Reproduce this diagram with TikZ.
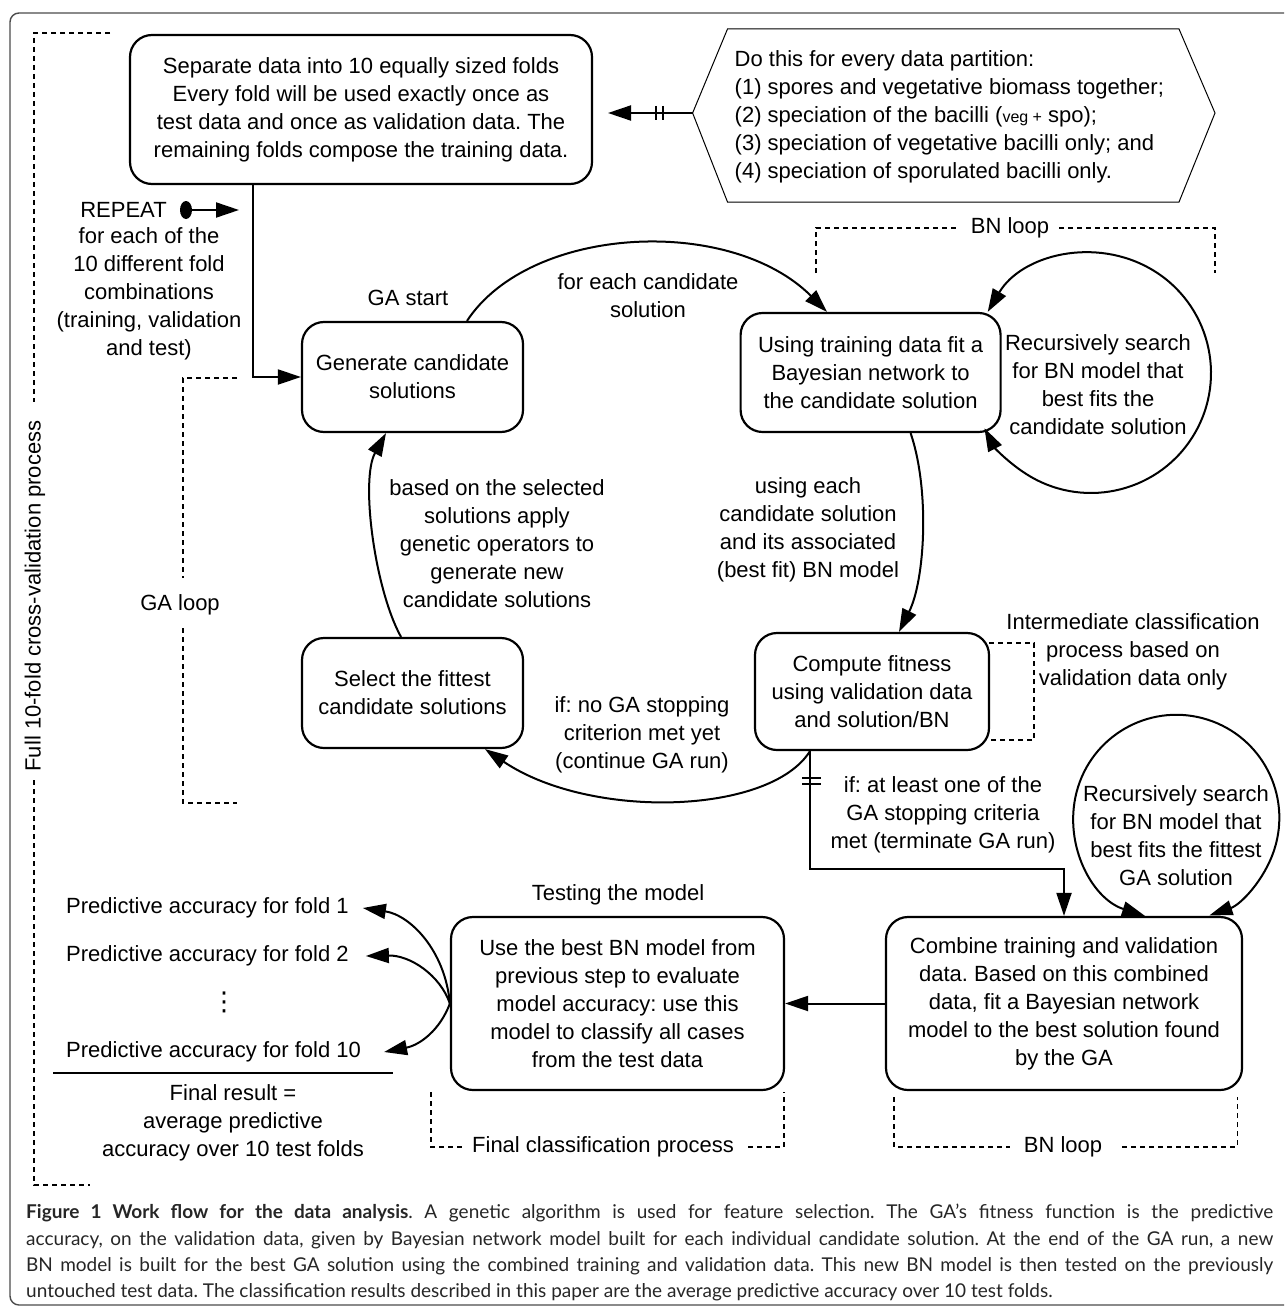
\documentclass[tikz,border=0pt]{standalone}
\usepackage{fontspec}
\setmainfont{Liberation Sans}
\newfontfamily\capfont{Lato}
\newfontfamily\dejavu{DejaVu Sans}
\usetikzlibrary{arrows.meta,shapes.geometric}
\begin{document}
\frenchspacing
\begin{tikzpicture}[x=1pt,y=-1pt,
  every node/.style={font=\fontsize{22}{28}\selectfont, align=center, inner sep=0pt},
  box/.style={draw, line width=2.2pt, rounded corners=22pt},
  arr/.style={line width=2pt, -{Triangle[length=23pt,width=15pt]}},
  arrboth/.style={line width=2pt, {Triangle[length=23pt,width=15pt]}-{Triangle[length=23pt,width=15pt]}},
  dsh/.style={line width=1.8pt, dash pattern=on 5pt off 4pt},
  ]
\useasboundingbox (0,0) rectangle (1284,1308);
\fill[white] (0,0) rectangle (1284,1308);

% outer frame
\draw[line width=1.4pt, black!70, rounded corners=9pt] (1284,13) -- (10,13) -- (10,1305) -- (1284,1305);

% boxes
\node[box, minimum width=462pt, minimum height=149pt] (top) at (361,109.5) {Separate data into 10 equally sized folds\\Every fold will be used exactly once as\\test data and once as validation data. The\\remaining folds compose the training data.};
\node[box, minimum width=221pt, minimum height=110pt] (gen) at (412.5,377) {Generate candidate\\solutions};
\node[box, minimum width=260pt, minimum height=119pt] (using) at (870.6,372.5) {Using training data fit a\\Bayesian network to\\the candidate solution};
\node[box, minimum width=234pt, minimum height=117pt] (compute) at (872,691.5) {Compute fitness\\using validation data\\and solution/BN};
\node[box, minimum width=221pt, minimum height=110pt] (select) at (412.5,693) {Select the fittest\\candidate solutions};
\node[box, minimum width=333pt, minimum height=173pt] (use) at (617.5,1003.5) {Use the best BN model from\\previous step to evaluate\\model accuracy: use this\\model to classify all cases\\from the test data};
\node[box, minimum width=356pt, minimum height=173pt] (combine) at (1064,1003.5) {Combine training and validation\\data. Based on this combined\\data, fit a Bayesian network\\model to the best solution found\\by the GA};

% hexagon
\draw[line width=1pt] (727.5,29) -- (1179,29) -- (1215,113) -- (1179,202) -- (727.5,202) -- (692.6,113) -- cycle;
\coordinate (hexL) at (692.6,113);
\coordinate (hexTip) at (608,113);
\node[anchor=west, align=left] (hex) at (734.5,117) {Do this for every data partition:\\(1) spores and vegetative biomass together;\\(2) speciation of the bacilli ({\fontsize{16}{16}\selectfont veg +} spo);\\(3) speciation of vegetative bacilli only; and\\(4) speciation of sporulated bacilli only.};
\draw[arr] (hexL) -- (hexTip);
\draw[line width=2pt] (656,106) -- (656,120) (662.6,106) -- (662.6,120);

% repeat
\node (rep) at (123.5,210) {REPEAT};
\node[fill, ellipse, minimum width=12pt, minimum height=18pt] (dot) at (186,210) {};
\coordinate (repTip) at (239,210);
\draw[arr] (dot.east) -- (repTip);
\node (foreach) at (149,294) {for each of the\\10 different fold\\combinations\\(training, validation\\and test)};
\draw[arr] ([xshift=-108pt]top.south) |- (gen.west);

\node (gastart) at (408,298) {GA start};

% GA loop arcs
\draw[arr] ([xshift=54.5pt]gen.north) .. controls (530,225) and (730,215) .. ([xshift=-43.6pt]using.north);
\node (lab1) at (648,296) {for each candidate\\solution};

\draw[arrboth] ([xshift=-14pt]using.north east) arc[start angle=210.6, end angle=512.6, radius=120];
\node (rec1) at (1098,385) {Recursively search\\for BN model that\\best fits the\\candidate solution};

\node (bnl1) at (1010,228) {BN loop};
\draw[dsh] (816,273) |- ([xshift=-14pt]bnl1.west);
\draw[dsh] ([xshift=10pt]bnl1.east) -| (1215,273);

\draw[arr] ([xshift=40pt]using.south) .. controls (930,490) and (925,580) .. ([xshift=27pt]compute.north);
\node (lab2) at (808,530) {using each\\candidate solution\\and its associated\\(best fit) BN model};

\draw[arr] ([xshift=-62pt]compute.south) .. controls (770,815) and (590,820) .. ([xshift=72.5pt]select.south);
\node (lab3) at (642,735) {if: no GA stopping\\criterion met yet\\(continue GA run)};

\draw[arr] ([xshift=-11.5pt]select.north) .. controls (375,590) and (360,480) .. ([xshift=-26.5pt]gen.south);
\node (lab4) at (497,544) {based on the selected\\solutions apply\\genetic operators to\\generate new\\candidate solutions};

\draw[dsh] (989,643) -- (1034,643) -- (1034,740) -- (989,740);
\node (inter) at (1133,652) {Intermediate classification\\process based on\\validation data only};

\draw[arr] ([xshift=-62pt]compute.south) -- ++(0,118) -| (combine.north);
\draw[line width=2pt] (802,778) -- (821,778) (802,784) -- (821,784);
\node (lab5) at (943,815) {if: at least one of the\\GA stopping criteria\\met (terminate GA run)};

\draw[arrboth] ([xshift=81pt]combine.north) arc[start angle=107.7, end angle=431.2, radius=103];
\node (rec2) at (1176,836) {Recursively search\\for BN model that\\best fits the fittest\\GA solution};

\draw[arr] (combine.west) -- (use.east);
\node (testing) at (618,895) {Testing the model};

% folds
\node[anchor=west] (f1) at (66,908) {Predictive accuracy for fold 1};
\node[anchor=west] (f2) at (66,956) {Predictive accuracy for fold 2};
\node[anchor=west] (f10) at (66,1052) {Predictive accuracy for fold 10};
\node[font=\dejavu\fontsize{26}{26}\selectfont] (vd) at (224,1002) {⋮};
\draw[arr] (use.west) .. controls (445,950) and (410,915) .. ([xshift=14pt]f1.east);
\draw[arr] (use.west) .. controls (440,975) and (410,955) .. ([xshift=17pt]f2.east);
\draw[arr] (use.west) .. controls (440,1030) and (420,1045) .. ([xshift=23pt]f10.east);
\coordinate (rl) at (53,1073);
\coordinate (rr) at (393,1073);
\draw[line width=2pt] (rl) -- (rr);
\node (final) at (233,1123) {Final result =\\average predictive\\accuracy over 10 test folds};

% final classification bracket
\node (fcp) at (603,1147) {Final classification process};
\draw[dsh] (431,1092) |- ([xshift=-8pt]fcp.west);
\draw[dsh] ([xshift=14pt]fcp.east) -| (784,1092);

% BN loop bottom
\node (bnl2) at (1063,1147) {BN loop};
\draw[dsh] (894,1097) |- ([xshift=-14pt]bnl2.west);
\draw[dsh] ([xshift=20pt]bnl2.east) -| (1237.5,1097);

% GA loop bracket
\node (gal) at (180,605) {GA loop};
\draw[dsh] (237,378) -| (183,578);
\draw[dsh] (183,628) |- (237,803);

% outer bracket
\node[rotate=90] (full) at (35,596) {Full 10-fold cross-validation process};
\draw[dsh] (110,33) -| (34,402);
\draw[dsh] (34,780) |- (90,1185);

% caption
\node[anchor=north west, align=justify, text width=1247pt, font=\capfont\fontsize{19}{26.3}\selectfont, text=black!85] (cap) at (26,1204) {\textbf{Figure 1 Work flow for the data analysis}. A genetic algorithm is used for feature selection. The GA’s fitness function is the predictive\linebreak accuracy, on the validation data, given by Bayesian network model built for each individual candidate solution. At the end of the GA run, a new\linebreak BN model is built for the best GA solution using the combined training and validation data. This new BN model is then tested on the previously\linebreak untouched test data. The classification results described in this paper are the average predictive accuracy over 10 test folds.};
\end{tikzpicture}
\end{document}
